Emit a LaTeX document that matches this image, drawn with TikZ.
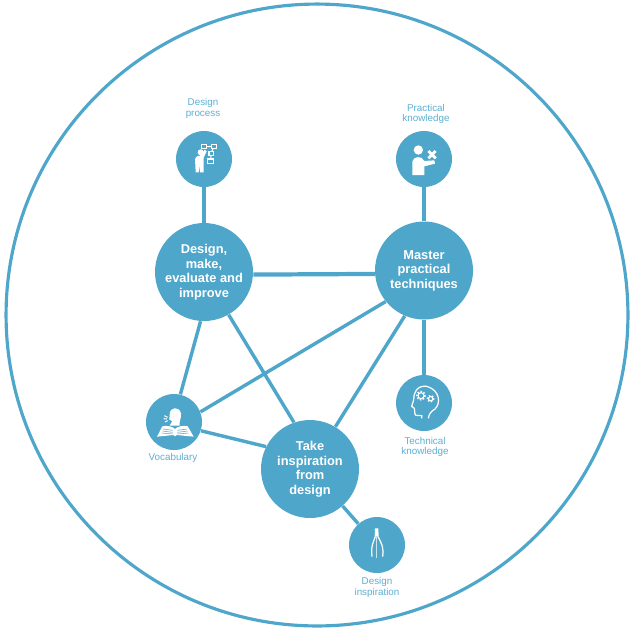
\documentclass[tikz,border=0pt]{standalone}
\usepackage{fontspec}
\setmainfont{Liberation Sans}
\definecolor{ringblue}{HTML}{4FA6CB}
\definecolor{labelblue}{HTML}{5AAFD2}
\tikzset{
	bigtopic/.style={draw=none, fill=ringblue, circle, minimum size=1.96cm, inner sep=0pt, align=center, text=white, font=\fontsize{7.3}{8.3}\selectfont\bfseries},
	smalltopic/.style={draw=none, fill=ringblue, circle, minimum size=1.12cm, inner sep=0pt},
	toptext/.style={text=labelblue, align=center, font=\fontsize{5.6}{6.1}\selectfont, inner sep=0pt},
	link/.style={draw=ringblue, line width=1.95pt},
	stem/.style={draw=ringblue, line width=2.4pt},
	iconline/.style={draw=white, line width=0.6pt, fill=none},
	iconfill/.style={fill=white, draw=none}
}

\begin{document}
\begin{tikzpicture}[x=0.02cm, y=-0.02cm]
	\useasboundingbox (0,0) rectangle (634,633);
	\node (ring) [draw=ringblue, circle, line width=1.8pt, minimum size=12.44cm, inner sep=0pt] at (317,315) {};

	\node (design) [bigtopic] at (204,272) {Design,\\make,\\evaluate and\\improve};
	\node (master) [bigtopic] at (424,270.5) {Master\\practical\\techniques};
	\node (take) [bigtopic] at (310,469) {Take\\inspiration\\from\\design};
	\node (process) [smalltopic] at (204,159) {};
	\node (practical) [smalltopic] at (424,159) {};
	\node (technical) [smalltopic] at (424,403) {};
	\node (vocab) [smalltopic] at (174,422) {};
	\node (inspire) [smalltopic] at (377,545) {};

	\node (processtext) [toptext] at (203,108.5) {Design\\process};
	\node (practicaltext) [toptext] at (426,114) {Practical\\knowledge};
	\node (technicaltext) [toptext] at (425,447) {Technical\\knowledge};
	\node (vocabtext) [toptext] at (173,458) {Vocabulary};
	\node (inspiretext) [toptext] at (377,587.5) {Design\\inspiration};

	% Links
	\draw[stem] (process) -- (design);
	\draw[stem] (practical) -- (master);
	\draw[stem] (master) -- (technical);
	\draw[stem] (design.357.7) -- (master.184.7);
	\draw[link] (design.266.4) -- (vocab.77.5);
	\draw[link] (design.300) -- (take.109);
	\draw[link] (master.219) -- (vocab.21);
	\draw[link] (master.247.6) -- (take.59);
	\draw[link] (vocab.342) -- (take.153);
	\draw[link] (take) -- (inspire);

	% Design process icon
	\begin{scope}[shift={(160,85)}, scale=1/3]
		\fill[iconfill] (122,202) circle (9);
		\fill[iconfill] (105,222) .. controls (106,214) and (114,212) .. (120,212) -- (134,194) -- (140,199) -- (131,218) -- (131,262) -- (120,262) -- (118,240) -- (116,262) -- (107,262) -- cycle;
		\draw[iconline] (125,179) rectangle (140,191);
		\draw[iconline] (155,178) rectangle (170,190);
		\draw[iconline] (147,200) rectangle (160,212);
		\draw[iconline] (143,222) rectangle (160,235);
		\draw[iconline] (140,185) -- (155,184) (160,190) -- (155,200) (153,212) -- (152,222);
	\end{scope}

	% Practical knowledge icon
	\begin{scope}[shift={(385,95)}, scale=1/3]
		\fill[iconfill] (100,165) circle (14);
		\fill[iconfill] (82,240) -- (82,200) .. controls (84,184) and (110,180) .. (118,198) -- (148,196) -- (150,206) -- (118,214) -- (118,240) -- cycle;
		\draw[white, line width=1.6pt] (130,168) -- (152,190) (152,168) -- (130,190);
	\end{scope}

	% Technical knowledge icon
	\begin{scope}[shift={(385,365)}, scale=1/3]
		\draw[iconline, line width=0.7pt] (130,160) .. controls (132,145) and (140,138) .. (150,132) .. controls (168,115) and (165,75) .. (125,64) .. controls (95,60) and (85,85) .. (86,105) -- (80,124) -- (88,130) -- (90,148) .. controls (92,154) and (105,150) .. (110,152) -- (110,160);
		\draw[iconline] (108,92) circle (9);
		\draw[white, line width=1pt, dash pattern=on 0.8pt off 0.9pt] (108,92) circle (12);
		\draw[iconline] (137,101) circle (6.5);
		\draw[white, line width=0.9pt, dash pattern=on 0.8pt off 0.9pt] (137,101) circle (9);
	\end{scope}

	% Vocabulary icon
	\begin{scope}[shift={(135,385)}, scale=1/3]
		\fill[iconfill] (104,122) -- (112,108) -- (103,104) -- (104,88) .. controls (104,66) and (132,62) .. (138,85) .. controls (140,100) and (132,105) .. (134,122) -- cycle;
		\draw[iconline] (88,92) -- (98,97) (86,101) -- (96,102) (90,111) -- (98,107);
		\fill[iconfill] (66,155) -- (82,124) .. controls (95,120) and (112,124) .. (120,132) .. controls (128,124) and (145,120) .. (158,124) -- (176,155) -- (125,150) -- (120,154) -- (115,150) -- cycle;
		\draw[ringblue, line width=0.3pt] (84,132) -- (113,136) (82,138) -- (113,142) (80,144) -- (112,147) (127,136) -- (156,132) (127,142) -- (158,138) (128,147) -- (160,144);
	\end{scope}

	% Design inspiration icon
	\begin{scope}[shift={(340,505)}, scale=1/3]
		\fill[iconfill] (105,70) -- (115,70) -- (116,95) -- (104,95) -- cycle;
		\draw[iconline, line width=0.7pt] (106,95) .. controls (100,110) and (92,125) .. (96,155);
		\draw[iconline, line width=0.7pt] (114,95) .. controls (122,110) and (132,125) .. (128,155);
		\draw[iconline, line width=0.5pt, white!70!ringblue] (110,95) -- (110,160);
	\end{scope}
\end{tikzpicture}
\end{document}
